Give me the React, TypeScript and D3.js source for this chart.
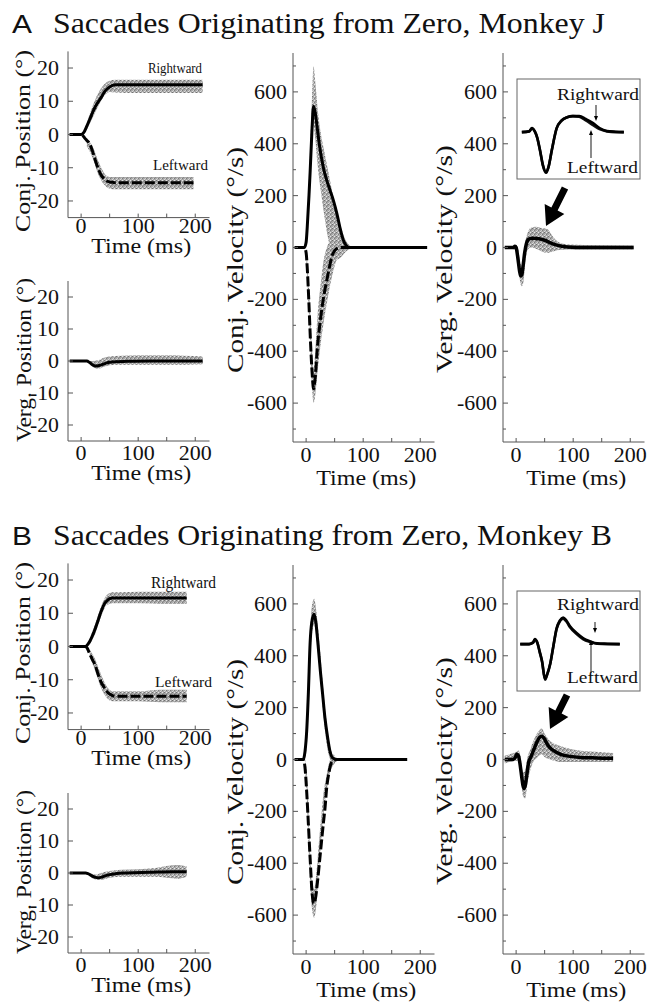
import React, { useEffect, useRef } from 'react';
import * as d3 from 'd3';

type Pt = [number, number];

// time axis shared by every subplot (ms)
const T_DOMAIN: [number, number] = [-23, 225];
const POS_TICKS = [-20, -10, 0, 10, 20];
const VEL_TICKS = [-600, -400, -200, 0, 200, 400, 600];
const VEL_MINOR = [-700, -500, -300, -100, 100, 300, 500, 700];
const TIME_TICKS = [0, 100, 200];
const TIME_MINOR = [50, 150];

// ---------- Monkey J (panel A) ----------
const jPosRightT = [-20, 0, 3, 6, 10, 15, 20, 25, 30, 35, 40, 45, 50, 55, 60, 80, 120, 160, 213];
const jPosRightV = [0, 0, 0.3, 1, 2.5, 4.5, 6.6, 8.4, 9.8, 11.1, 12.6, 13.6, 14.3, 14.8, 15, 15, 15, 15, 15];
const jPosRightBandT = [10, 20, 30, 40, 50, 60, 80, 120, 160, 213];
const jPosRightHi = [3.5, 8.5, 12.5, 15, 16.2, 16.5, 16.5, 16.5, 16.5, 16.5];
const jPosRightLo = [1.5, 5, 8.5, 11.5, 12.8, 12.6, 12.5, 12.5, 12.5, 12.5];
const jPosLeftT = [-20, 0, 3, 6, 10, 15, 20, 25, 30, 35, 40, 45, 50, 55, 60, 80, 120, 160, 197];
const jPosLeftV = [0, 0, -0.3, -1, -1.8, -2.8, -5, -7.8, -10.3, -12.2, -13.3, -14, -14.3, -14.4, -14.5, -14.5, -14.5, -14.5, -14.5];
const jPosLeftBandT = [10, 20, 30, 40, 50, 60, 80, 120, 160, 197];
const jPosLeftHi = [-1.5, -3.5, -8, -11.5, -12.8, -12.8, -12.8, -12.8, -12.8, -12.8];
const jPosLeftLo = [-3.5, -7, -12, -15, -16.3, -16.5, -16.5, -16.5, -16.5, -16.5];

const jVergPosT = [-20, 0, 10, 15, 20, 25, 30, 35, 40, 45, 50, 60, 80, 120, 160, 213];
const jVergPosV = [0, 0, 0, -0.5, -1.2, -1.6, -1.5, -1.2, -0.9, -0.6, -0.4, -0.2, -0.1, 0, 0, 0];
const jVergPosBandT = [15, 20, 30, 40, 60, 100, 150, 213];
const jVergPosHi = [0, 0, 0.2, 1, 1.6, 1.8, 1.8, 1.4];
const jVergPosLo = [-1, -1.8, -2.4, -1.8, -1.2, -1.2, -1.2, -1];

const jVelRightT = [-20, -3, 0, 2, 5, 7, 10, 13, 16, 19, 23, 30, 36, 42, 48, 54, 60, 65, 70, 75, 100, 150, 212];
const jVelRightV = [0, 0, 20, 80, 200, 290, 440, 545, 520, 470, 400, 310, 260, 220, 180, 130, 70, 30, 8, 0, 0, 0, 0];
const jVelRightBandT = [0, 5, 10, 13, 16, 20, 25, 30, 40, 50, 60, 70, 78];
const jVelRightHi = [30, 260, 560, 700, 640, 540, 450, 390, 280, 170, 85, 25, 5];
const jVelRightLo = [0, 150, 380, 470, 420, 320, 230, 150, 20, -50, -40, -15, -5];
const jVelLeftT = [-20, -3, 0, 2, 5, 8, 11, 13, 16, 20, 25, 30, 35, 40, 45, 50, 55, 60, 65, 100, 150, 212];
const jVelLeftV = [0, 0, -20, -80, -220, -380, -500, -545, -500, -380, -280, -200, -140, -85, -35, -12, -3, 0, 0, 0, 0, 0];
const jVelLeftBandT = [0, 5, 10, 13, 16, 20, 25, 30, 40, 50, 60, 70];
const jVelLeftHi = [0, -150, -380, -470, -400, -260, -150, -60, 20, 60, 40, 10];
const jVelLeftLo = [-30, -260, -520, -600, -570, -480, -380, -300, -170, -70, -20, -5];

const jVergVelT = [-20, -5, -2, 0, 3, 6, 8, 10, 12, 15, 18, 21, 25, 30, 40, 50, 60, 70, 80, 90, 120, 160, 206];
const jVergVelV = [0, 0, 5, 0, -40, -90, -110, -105, -75, -20, 15, 30, 35, 36, 34, 28, 18, 10, 5, 2, 0, 0, 0];
const jVergVelBandT = [-5, 0, 4, 7, 10, 13, 16, 20, 25, 35, 45, 55, 65, 75, 90, 120, 206];
const jVergVelHi = [8, 10, -10, -60, -70, -40, 20, 55, 75, 80, 75, 70, 40, 20, 12, 10, 8];
const jVergVelLo = [-8, -10, -70, -130, -150, -130, -60, -10, 0, -5, -15, -20, -15, -10, -8, -8, -8];

const jInsetRightT = [-21, -12, -8.5, -5, -2, 1.5, 5, 9, 12, 16, 22, 28, 35, 42, 50, 58, 67, 75, 84, 95, 105];
const jInsetRightV = [0, 2, 11, 2, -15, -50, -90, -110, -95, -50, 11, 32, 41, 44, 44, 36, 25, 11, 3, 1, 0];
const jInsetLeftT = [-21, -12, -8.5, -5, -2, 1.5, 5, 9, 12, 16, 22, 28, 35, 42, 50, 58, 67, 75, 84, 95, 105];
const jInsetLeftV = [0, 2, 10, 2, -16, -52, -92, -112, -96, -50, 10, 31, 41, 44, 42, 32, 19, 8, 2, 0, 0];

// ---------- Monkey B (panel B) ----------
const bPosRightT = [-20, 7, 10, 15, 20, 25, 30, 35, 40, 45, 50, 55, 60, 100, 140, 185];
const bPosRightV = [0, 0, 0.3, 1.5, 3.3, 5.5, 8, 10.5, 12.6, 13.7, 14.4, 14.6, 14.6, 14.6, 14.6, 14.6];
const bPosRightBandT = [15, 25, 35, 45, 55, 70, 100, 140, 185];
const bPosRightHi = [2.5, 7, 12, 15.5, 16.3, 16.3, 16.5, 16.5, 16.5];
const bPosRightLo = [0.5, 4, 9, 12.5, 13, 13, 13, 12.8, 12.8];
const bPosLeftT = [-20, 7, 10, 15, 20, 25, 30, 35, 40, 45, 50, 55, 60, 100, 140, 185];
const bPosLeftV = [0, 0, -0.3, -2.2, -4, -5.8, -8.5, -10.7, -12.2, -13.5, -14.3, -14.8, -15, -15, -15, -15];
const bPosLeftBandT = [15, 25, 35, 45, 55, 70, 100, 140, 185];
const bPosLeftHi = [-1, -4, -8.5, -12, -13.5, -13.5, -13.5, -13, -13];
const bPosLeftLo = [-3, -7.5, -12.5, -15.5, -16.5, -16.5, -16.5, -16.8, -16.8];

const bVergPosT = [-20, 8, 12, 18, 24, 30, 36, 42, 50, 60, 80, 120, 160, 185];
const bVergPosV = [0, 0, -0.2, -0.8, -1.3, -1.5, -1.3, -0.9, -0.5, -0.2, 0, 0.2, 0.4, 0.4];
const bVergPosBandT = [15, 25, 35, 50, 70, 100, 130, 150, 170, 185];
const bVergPosHi = [0, -0.5, 0, 0.6, 1, 1.2, 1.6, 2.2, 2.5, 2];
const bVergPosLo = [-1, -2, -2.2, -1.5, -1.2, -1.2, -1.2, -1.5, -1.8, -1.2];

const bVelRightT = [-20, -5, -2, 1, 4, 7, 10, 14, 17, 21, 25, 29, 33, 38, 42, 47, 55, 100, 140, 177];
const bVelRightV = [0, 0, 30, 110, 260, 450, 530, 560, 530, 440, 340, 250, 160, 80, 30, 5, 0, 0, 0, 0];
const bVelRightBandT = [-2, 2, 6, 10, 14, 18, 22, 26, 30, 36, 42, 48, 52];
const bVelRightHi = [40, 200, 440, 590, 620, 570, 480, 380, 270, 140, 50, 10, 0];
const bVelRightLo = [0, 80, 300, 480, 520, 470, 380, 280, 180, 60, 0, -20, -5];
const bVelLeftT = [-20, -5, -2, 1, 4, 7, 10, 13, 16, 20, 25, 30, 33, 36, 40, 43, 47, 55, 100, 140, 177];
const bVelLeftV = [0, 0, -30, -125, -250, -380, -500, -555, -540, -470, -360, -250, -190, -110, -50, -20, -5, 0, 0, 0, 0];
const bVelLeftBandT = [-2, 2, 6, 10, 14, 18, 22, 26, 30, 36, 42, 48, 52];
const bVelLeftHi = [0, -80, -300, -470, -500, -440, -330, -230, -140, -60, 0, 20, 0];
const bVelLeftLo = [-40, -200, -430, -570, -610, -560, -450, -330, -230, -120, -50, -20, -5];

const bVergVelT = [-20, -5, -1, 1, 4, 7, 10, 12, 14, 16, 19, 22, 26, 31, 36, 41, 45, 49, 53, 57, 65, 78, 95, 113, 140, 170];
const bVergVelV = [0, 0, 10, 20, 15, -20, -70, -100, -112, -100, -55, -10, 10, 38, 65, 85, 90, 82, 65, 51, 35, 20, 12, 8, 6, 5];
const bVergVelBandT = [-20, 0, 4, 8, 12, 16, 20, 25, 30, 38, 45, 50, 60, 80, 110, 140, 170];
const bVergVelHi = [15, 30, 35, 10, -50, -40, 10, 40, 70, 105, 120, 100, 70, 50, 35, 30, 25];
const bVergVelLo = [-15, -5, -5, -60, -140, -150, -90, -40, -10, 10, 20, 10, 0, -10, -10, -10, -10];

const bInsetRightT = [-23, -12, -7, -5, -2, 1, 4, 7.6, 10, 14, 17.5, 22, 26, 30, 34, 38.5, 47, 55, 63, 72, 85, 100];
const bInsetRightV = [0, 0, 5, 14, 5, -20, -47, -96, -85, -55, -11, 44, 65, 73, 65, 49, 30, 16, 8, 2, 1, 0];
const bInsetLeftT = [-23, -12, -7, -5, -2, 1, 4, 7.6, 10, 14, 17.5, 22, 26, 30, 34, 38.5, 47, 55, 63, 72, 85, 100];
const bInsetLeftV = [0, 0, 4, 12, 4, -22, -49, -98, -86, -55, -12, 42, 63, 70, 62, 46, 27, 13, 6, 1, 0, 0];

const zip = (t: number[], v: number[]): Pt[] => t.map((d, i) => [d, v[i]]);
const band = (t: number[], lo: number[], hi: number[]) => t.map((d, i) => [d, lo[i], hi[i]] as [number, number, number]);

const SERIF = "'Liberation Serif'";
const SANS = "'Liberation Sans'";
const AXIS = '#555';

const numLen = (s: string) => s.replace('-', '').length * 11 + (s.startsWith('-') ? 7 : 0);

function addText(g: any, str: string, x: number, y: number, size: number, len: number | null, anchor = 'middle', rotate = false, family = SERIF) {
  const t = g.append('text')
    .attr('transform', `translate(${x},${y})${rotate ? ' rotate(-90)' : ''}`)
    .attr('text-anchor', anchor)
    .style('font-family', family)
    .style('font-size', `${size}px`)
    .attr('fill', '#111')
    .text(str);
  if (len) t.attr('textLength', len).attr('lengthAdjust', 'spacingAndGlyphs');
  return t;
}

function drawPlot(svg: any, p: any) {
  const x = d3.scaleLinear().domain(T_DOMAIN).range(p.xr);
  const y = d3.scaleLinear().domain(p.yd).range(p.yr);
  const g = svg.append('g');
  const line = d3.line<Pt>().x(d => x(d[0])).y(d => y(d[1])).curve(d3.curveMonotoneX);
  const area = d3.area<[number, number, number]>()
    .x(d => x(d[0])).y0(d => y(d[1])).y1(d => y(d[2])).curve(d3.curveMonotoneX);

  p.bands.forEach((b: any) => {
    g.append('path').attr('d', area(b)).attr('fill', 'url(#stip)');
  });
  p.lines.forEach((l: any) => {
    g.append('path').attr('d', line(l.pts))
      .attr('fill', 'none').attr('stroke', '#000')
      .attr('stroke-width', l.w || 3)
      .attr('stroke-linejoin', 'round')
      .attr('stroke-dasharray', l.dash || null);
  });

  // axes
  const [yb, yt] = p.yr;
  const [xl, xr] = p.xr;
  g.append('line').attr('x1', xl).attr('x2', xl).attr('y1', yt).attr('y2', yb).attr('stroke', AXIS).attr('stroke-width', 1);
  g.append('line').attr('x1', xl).attr('x2', xr).attr('y1', yb).attr('y2', yb).attr('stroke', AXIS).attr('stroke-width', 1);

  p.yTicks.forEach((v: number) => {
    g.append('line').attr('x1', xl).attr('x2', xl + 5).attr('y1', y(v)).attr('y2', y(v)).attr('stroke', AXIS);
    const s = String(v);
    addText(g, s, xl - p.labGap, y(v) + 7, 20, numLen(s), 'end');
  });
  (p.yMinor || []).forEach((v: number) => {
    g.append('line').attr('x1', xl).attr('x2', xl + 3).attr('y1', y(v)).attr('y2', y(v)).attr('stroke', AXIS);
  });
  TIME_TICKS.concat(TIME_MINOR).forEach(t => {
    g.append('line').attr('x1', x(t)).attr('x2', x(t)).attr('y1', yb).attr('y2', yb - 4).attr('stroke', AXIS);
  });
  TIME_TICKS.forEach(t => {
    const s = String(t);
    addText(g, s, x(t), yb + p.tickDy, 20, numLen(s));
  });
  addText(g, 'Time (ms)', (x(0) + x(200)) / 2 + 3, yb + p.timeDy, 20, 100);
  addText(g, p.yTitle, p.titleX, p.titleY, p.titleSize, p.titleLen, 'middle', true);
  return { x, y, g };
}

function arrowHead(g: any, x1: number, y1: number, x2: number, y2: number, shaft: number, headLen: number, headW: number) {
  const dx = x2 - x1, dy = y2 - y1;
  const L = Math.hypot(dx, dy);
  const ux = dx / L, uy = dy / L, nx = -uy, ny = ux;
  const bx = x2 - ux * headLen, by = y2 - uy * headLen;
  const pts = [
    [x1 + nx * shaft / 2, y1 + ny * shaft / 2],
    [bx + nx * shaft / 2, by + ny * shaft / 2],
    [bx + nx * headW / 2, by + ny * headW / 2],
    [x2, y2],
    [bx - nx * headW / 2, by - ny * headW / 2],
    [bx - nx * shaft / 2, by - ny * shaft / 2],
    [x1 - nx * shaft / 2, y1 - ny * shaft / 2],
  ];
  g.append('polygon').attr('points', pts.map(p => p.join(',')).join(' ')).attr('fill', '#000');
}

const panels = [
  {
    letter: 'A', title: 'Saccades Originating from Zero, Monkey J', titleLen: 552, dy: 0,
    posRight: zip(jPosRightT, jPosRightV), posRightBand: band(jPosRightBandT, jPosRightLo, jPosRightHi),
    posLeft: zip(jPosLeftT, jPosLeftV), posLeftBand: band(jPosLeftBandT, jPosLeftLo, jPosLeftHi),
    vergPos: zip(jVergPosT, jVergPosV), vergPosBand: band(jVergPosBandT, jVergPosLo, jVergPosHi),
    velRight: zip(jVelRightT, jVelRightV), velRightBand: band(jVelRightBandT, jVelRightLo, jVelRightHi),
    velLeft: zip(jVelLeftT, jVelLeftV), velLeftBand: band(jVelLeftBandT, jVelLeftLo, jVelLeftHi),
    vergVel: zip(jVergVelT, jVergVelV), vergVelBand: band(jVergVelBandT, jVergVelLo, jVergVelHi),
    insetRight: zip(jInsetRightT, jInsetRightV), insetLeft: zip(jInsetLeftT, jInsetLeftV),
    rightLab: { x: 148, y: 73, size: 14, len: 54 }, leftLab: { x: 153, y: 170, size: 15, len: 55 },
    insetArrows: { r: [596, 105, 121], l: [591, 158, 130], rText: 100, lText: 173 },
    bigArrow: [565, 188, 546, 226],
  },
  {
    letter: 'B', title: 'Saccades Originating from Zero, Monkey B', titleLen: 559, dy: 512,
    posRight: zip(bPosRightT, bPosRightV), posRightBand: band(bPosRightBandT, bPosRightLo, bPosRightHi),
    posLeft: zip(bPosLeftT, bPosLeftV), posLeftBand: band(bPosLeftBandT, bPosLeftLo, bPosLeftHi),
    vergPos: zip(bVergPosT, bVergPosV), vergPosBand: band(bVergPosBandT, bVergPosLo, bVergPosHi),
    velRight: zip(bVelRightT, bVelRightV), velRightBand: band(bVelRightBandT, bVelRightLo, bVelRightHi),
    velLeft: zip(bVelLeftT, bVelLeftV), velLeftBand: band(bVelLeftBandT, bVelLeftLo, bVelLeftHi),
    vergVel: zip(bVergVelT, bVergVelV), vergVelBand: band(bVergVelBandT, bVergVelLo, bVergVelHi),
    insetRight: zip(bInsetRightT, bInsetRightV), insetLeft: zip(bInsetLeftT, bInsetLeftV),
    rightLab: { x: 151, y: 76, size: 16, len: 65 }, leftLab: { x: 155, y: 175, size: 15, len: 57 },
    insetArrows: { r: [595, 110, 121], l: [591, 161, 128], rText: 98, lText: 171 },
    bigArrow: [567, 183, 550, 217],
  },
];

const App = () => {
  const ref = useRef<SVGSVGElement>(null);

  useEffect(() => {
    const svg = d3.select(ref.current);
    svg.selectAll('*').remove();

    // stippled gray for the individual traces
    const pat = svg.append('defs').append('pattern')
      .attr('id', 'stip').attr('width', 4).attr('height', 4).attr('patternUnits', 'userSpaceOnUse');
    pat.append('rect').attr('width', 4).attr('height', 4).attr('fill', '#a8a8a8');
    [[0, 0, '#707070'], [2, 2, '#7c7c7c'], [2, 0, '#e6e6e6'], [0, 3, '#dadada'], [3, 1, '#8c8c8c'], [1, 2, '#cfcfcf']].forEach(([px, py, c]) => {
      pat.append('rect').attr('x', px).attr('y', py).attr('width', 1).attr('height', 1).attr('fill', c as string);
    });

    panels.forEach(P => {
      const dy = P.dy;
      const root = svg.append('g');
      addText(root, P.letter, 12, 33 + dy, 25, 20, 'start', false, SANS);
      addText(root, P.title, 53, 33 + dy, 30, P.titleLen, 'start');

      // conjugate position
      const cp = drawPlot(root, {
        xr: [68, 209.5], yd: [-25, 25], yr: [217.6 + dy, 51.4 + dy],
        yTicks: POS_TICKS, labGap: 9, tickDy: 15, timeDy: 35,
        yTitle: 'Conj. Position (°)', titleX: 30, titleY: 141 + dy, titleSize: 22, titleLen: 182,
        bands: [P.posRightBand, P.posLeftBand],
        lines: [{ pts: P.posRight }, { pts: P.posLeft, dash: '10,3' }],
      });
      addText(cp.g, 'Rightward', P.rightLab.x, P.rightLab.y + dy, P.rightLab.size, P.rightLab.len, 'start');
      addText(cp.g, 'Leftward', P.leftLab.x, P.leftLab.y + dy, P.leftLab.size, P.leftLab.len, 'start');

      // vergence position
      drawPlot(root, {
        xr: [68, 209.5], yd: [-25, 25], yr: [441 + dy, 281 + dy],
        yTicks: POS_TICKS, labGap: 9, tickDy: 19, timeDy: 39,
        yTitle: 'Verg. Position (°)', titleX: 31, titleY: 360 + dy, titleSize: 21, titleLen: 164,
        bands: [P.vergPosBand],
        lines: [{ pts: P.vergPos }],
      });

      // conjugate velocity
      drawPlot(root, {
        xr: [293, 434.5], yd: [-750, 750], yr: [442 + dy, 53 + dy],
        yTicks: VEL_TICKS, yMinor: VEL_MINOR, labGap: 6, tickDy: 20, timeDy: 43,
        yTitle: 'Conj. Velocity (°/s)', titleX: 243, titleY: 260 + dy, titleSize: 23, titleLen: 226,
        bands: [P.velRightBand, P.velLeftBand],
        lines: [{ pts: P.velRight }, { pts: P.velLeft, dash: '10,3' }],
      });

      // vergence velocity
      const vv = drawPlot(root, {
        xr: [503, 644.5], yd: [-750, 750], yr: [442 + dy, 53 + dy],
        yTicks: VEL_TICKS, yMinor: VEL_MINOR, labGap: 6, tickDy: 20, timeDy: 43,
        yTitle: 'Verg. Velocity (°/s)', titleX: 452, titleY: 259 + dy, titleSize: 23, titleLen: 228,
        bands: [P.vergVelBand],
        lines: [{ pts: P.vergVel, w: 3.5 }],
      });

      // inset: zoomed vergence velocity, rightward vs leftward
      const ix = d3.scaleLinear().domain([-27, 125]).range([517, 640]);
      const iy = d3.scaleLinear().domain([-129, 146]).range([179 + dy, 79 + dy]);
      const ig = vv.g.append('g');
      ig.append('rect').attr('x', 517).attr('y', 79 + dy).attr('width', 123).attr('height', 100)
        .attr('fill', '#fff').attr('stroke', '#666').attr('stroke-width', 1);
      const iline = d3.line<Pt>().x(d => ix(d[0])).y(d => iy(d[1])).curve(d3.curveMonotoneX);
      ig.append('path').attr('d', iline(P.insetLeft)).attr('fill', 'none').attr('stroke', '#111').attr('stroke-width', 2.6);
      ig.append('path').attr('d', iline(P.insetRight)).attr('fill', 'none').attr('stroke', '#000').attr('stroke-width', 2.6);
      addText(ig, 'Rightward', 557, P.insetArrows.rText + dy, 17, 82, 'start');
      addText(ig, 'Leftward', 567, P.insetArrows.lText + dy, 17, 71, 'start');
      const ra = P.insetArrows.r, la = P.insetArrows.l;
      arrowHead(ig, ra[0], ra[1] + dy, ra[0], ra[2] + dy, 0.9, 5, 4);
      arrowHead(ig, la[0], la[1] + dy, la[0], la[2] + dy, 0.9, 5, 4);

      const ba = P.bigArrow;
      arrowHead(vv.g, ba[0], ba[1] + dy, ba[2], ba[3] + dy, 7, 19, 22);
    });
  }, []);

  return (
    <svg ref={ref} width={650} height={1002}
      style={{ position: 'absolute', left: 0, top: 0, background: '#fff' }} />
  );
};

export default App;
